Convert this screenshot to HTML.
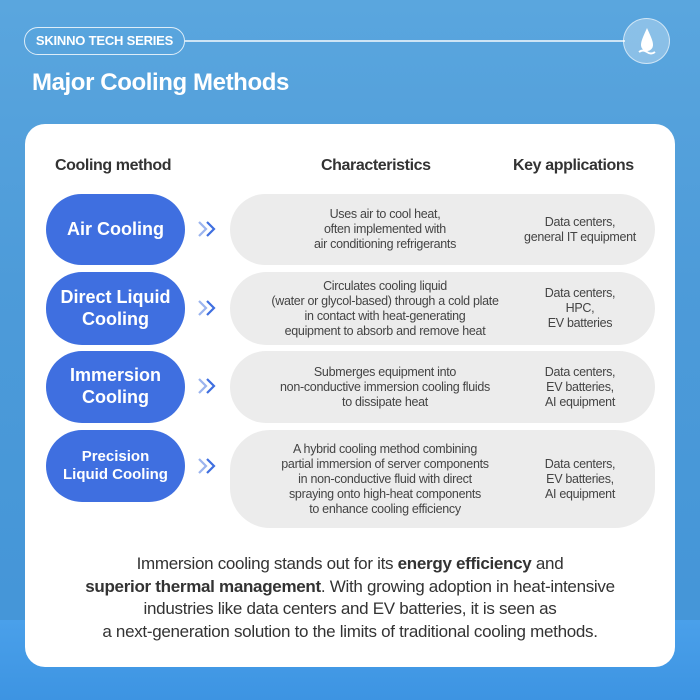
<!DOCTYPE html>
<html><head><meta charset="utf-8"><style>
*{margin:0;padding:0;box-sizing:border-box}
body{width:700px;height:700px;overflow:hidden;font-family:"Liberation Sans",sans-serif;position:relative;
background:linear-gradient(180deg,#5aa6de 0%,#4d9bd9 40%,#4596d8 85%);}
.band{position:absolute;left:0;top:620px;width:700px;height:80px;background:linear-gradient(180deg,#4aa0ea,#3d94e2)}
.a{position:absolute}
.tag{left:24px;top:27px;width:161px;height:28px;border:1.5px solid rgba(255,255,255,.8);border-radius:14px;color:#fff;font-size:13px;font-weight:bold;text-align:center;line-height:25px;letter-spacing:-0.2px}
.line{left:185px;top:40px;width:440px;height:1.5px;background:rgba(255,255,255,.7)}
.logo{left:623px;top:18px;width:47px;height:46px;border-radius:50%;background:rgba(255,255,255,.3);border:1px solid rgba(255,255,255,.6)}
h1{position:absolute;left:32px;top:69px;color:#fff;font-size:24px;font-weight:bold;letter-spacing:-0.4px}
.card{left:25px;top:124px;width:650px;height:543px;background:#fff;border-radius:20px}
.h{top:157px;font-size:16px;font-weight:bold;color:#333;letter-spacing:-0.4px}
.pill{left:46px;width:139px;background:#3f6fe0;border-radius:36px;color:#fff;font-weight:bold;display:flex;align-items:center;justify-content:center;text-align:center;line-height:1.2}
.grey{left:230px;width:425px;background:#ececec;border-radius:40px}
.c{left:250px;width:270px;text-align:center;font-size:12.5px;color:#444;line-height:15px;letter-spacing:-0.3px;display:flex;align-items:center;justify-content:center}
.k{left:505px;width:150px;text-align:center;font-size:12.5px;color:#444;line-height:15px;letter-spacing:-0.3px;display:flex;align-items:center;justify-content:center}
.ar{left:197px;width:22px;height:18px}
.bot{left:0;top:553px;width:700px;text-align:center;font-size:17px;line-height:22.5px;color:#333;letter-spacing:-0.3px}
</style></head><body>
<div class="band"></div>
<div class="a tag">SKINNO TECH SERIES</div>
<div class="a line"></div>
<div class="a logo"><svg width="47" height="46" viewBox="0 0 47 46"><path d="M23 9 C19 18 17 22 17 26 a6 6 0 0 0 12 0 C29 22 27 18 23 9Z" fill="#fff"/><path d="M15 33 q4 -3 8 0 t8 0" stroke="#fff" stroke-width="2" fill="none"/></svg></div>
<h1>Major Cooling Methods</h1>
<div class="a card"></div>
<div class="a h" style="left:55px">Cooling method</div>
<div class="a h" style="left:321px">Characteristics</div>
<div class="a h" style="left:513px">Key applications</div>

<div class="a grey" style="top:194px;height:71px"></div>
<div class="a grey" style="top:272px;height:73px"></div>
<div class="a grey" style="top:351px;height:72px"></div>
<div class="a grey" style="top:430px;height:98px"></div>

<div class="a pill" style="top:194px;height:71px;font-size:18px">Air Cooling</div>
<div class="a pill" style="top:272px;height:73px;font-size:18px">Direct Liquid<br>Cooling</div>
<div class="a pill" style="top:351px;height:72px;font-size:18px">Immersion<br>Cooling</div>
<div class="a pill" style="top:430px;height:72px;font-size:15px">Precision<br>Liquid Cooling</div>

<svg class="a ar" style="top:220px" viewBox="0 0 22 18"><path d="M2 2 L9 9 L2 16" stroke="#9bb4ee" stroke-width="2.2" fill="none"/><path d="M10 2 L17 9 L10 16" stroke="#3f6fe0" stroke-width="2.2" fill="none"/></svg>
<svg class="a ar" style="top:299px" viewBox="0 0 22 18"><path d="M2 2 L9 9 L2 16" stroke="#9bb4ee" stroke-width="2.2" fill="none"/><path d="M10 2 L17 9 L10 16" stroke="#3f6fe0" stroke-width="2.2" fill="none"/></svg>
<svg class="a ar" style="top:377px" viewBox="0 0 22 18"><path d="M2 2 L9 9 L2 16" stroke="#9bb4ee" stroke-width="2.2" fill="none"/><path d="M10 2 L17 9 L10 16" stroke="#3f6fe0" stroke-width="2.2" fill="none"/></svg>
<svg class="a ar" style="top:457px" viewBox="0 0 22 18"><path d="M2 2 L9 9 L2 16" stroke="#9bb4ee" stroke-width="2.2" fill="none"/><path d="M10 2 L17 9 L10 16" stroke="#3f6fe0" stroke-width="2.2" fill="none"/></svg>

<div class="a c" style="top:194px;height:71px">Uses air to cool heat,<br>often implemented with<br>air conditioning refrigerants</div>
<div class="a c" style="top:272px;height:73px">Circulates cooling liquid<br>(water or glycol-based) through a cold plate<br>in contact with heat-generating<br>equipment to absorb and remove heat</div>
<div class="a c" style="top:351px;height:72px">Submerges equipment into<br>non-conductive immersion cooling fluids<br>to dissipate heat</div>
<div class="a c" style="top:430px;height:98px">A hybrid cooling method combining<br>partial immersion of server components<br>in non-conductive fluid with direct<br>spraying onto high-heat components<br>to enhance cooling efficiency</div>

<div class="a k" style="top:194px;height:71px">Data centers,<br>general IT equipment</div>
<div class="a k" style="top:272px;height:73px">Data centers,<br>HPC,<br>EV batteries</div>
<div class="a k" style="top:351px;height:72px">Data centers,<br>EV batteries,<br>AI equipment</div>
<div class="a k" style="top:430px;height:98px">Data centers,<br>EV batteries,<br>AI equipment</div>

<div class="a bot">Immersion cooling stands out for its <b>energy efficiency</b> and<br><b>superior thermal management</b>. With growing adoption in heat-intensive<br>industries like data centers and EV batteries, it is seen as<br>a next-generation solution to the limits of traditional cooling methods.</div>
</body></html>
